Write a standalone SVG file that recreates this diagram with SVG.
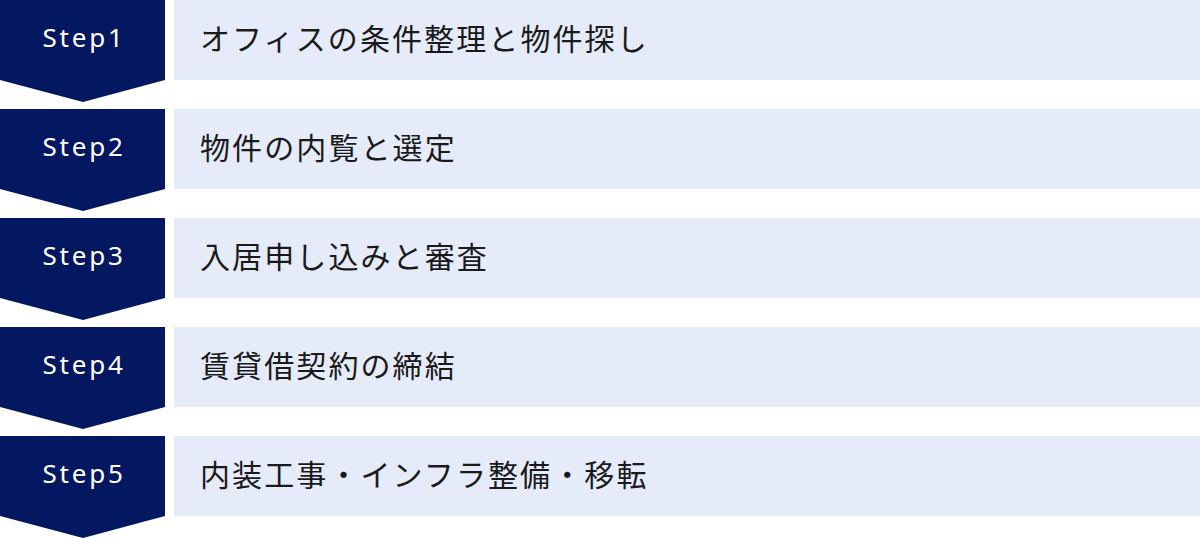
<svg xmlns="http://www.w3.org/2000/svg" width="1200" height="538" viewBox="0 0 1200 538">
<style>
.tag{fill:#041862}
.bar{fill:#E5EBF8}
.st{font-family:"Noto Sans","Noto Sans CJK JP",sans-serif;font-size:26px;font-weight:400;fill:#ffffff;text-anchor:middle;letter-spacing:2.8px}
.lb{font-family:"Noto Sans CJK JP",sans-serif;font-size:30px;fill:#1a1a1a;letter-spacing:2.1px}
</style>
<rect width="1200" height="538" fill="#ffffff"/>
<g id="step1">
<polygon class="tag" points="0,0 165,0 165,80 83,102 0,80"/>
<rect class="bar" x="174" y="0" width="1026" height="80"/>
<text class="st" x="84" y="47">Step1</text>
<text class="lb" x="200" y="50">オフィスの条件整理と物件探し</text>
</g>
<g id="step2">
<polygon class="tag" points="0,109 165,109 165,189 83,211 0,189"/>
<rect class="bar" x="174" y="109" width="1026" height="80"/>
<text class="st" x="84" y="156">Step2</text>
<text class="lb" x="200" y="159">物件の内覧と選定</text>
</g>
<g id="step3">
<polygon class="tag" points="0,218 165,218 165,298 83,320 0,298"/>
<rect class="bar" x="174" y="218" width="1026" height="80"/>
<text class="st" x="84" y="265">Step3</text>
<text class="lb" x="200" y="268">入居申し込みと審査</text>
</g>
<g id="step4">
<polygon class="tag" points="0,327 165,327 165,407 83,429 0,407"/>
<rect class="bar" x="174" y="327" width="1026" height="80"/>
<text class="st" x="84" y="374">Step4</text>
<text class="lb" x="200" y="377">賃貸借契約の締結</text>
</g>
<g id="step5">
<polygon class="tag" points="0,436 165,436 165,516 83,538 0,516"/>
<rect class="bar" x="174" y="436" width="1026" height="80"/>
<text class="st" x="84" y="483">Step5</text>
<text class="lb" x="200" y="486">内装工事・インフラ整備・移転</text>
</g>
<g id="connectors"></g>
</svg>
